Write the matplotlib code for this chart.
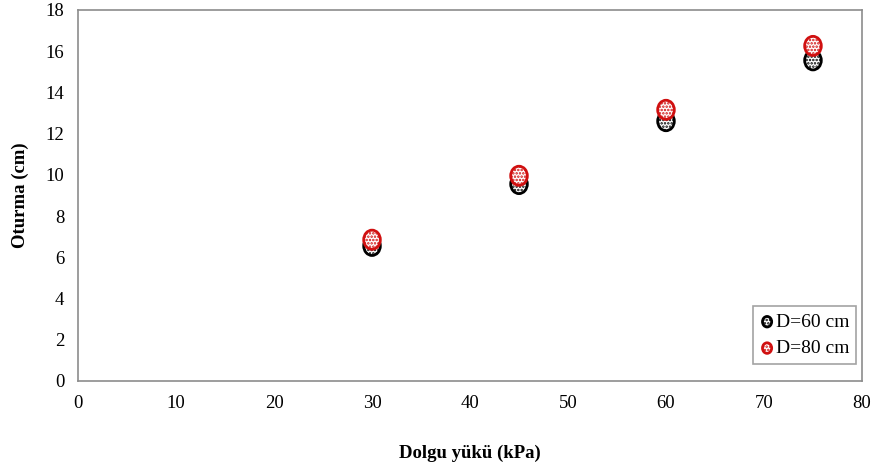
import matplotlib.pyplot as plt
import matplotlib as mpl
from matplotlib.path import Path
from matplotlib.transforms import Affine2D

plt.rcParams['font.family'] = ['Liberation Serif', 'DejaVu Serif']
mpl.rcParams['hatch.linewidth'] = 1.2

# Dolgu yükü ve oturma değerleri
yuk = [30, 45, 60, 75]
oturma_d60 = [6.55, 9.55, 12.6, 15.55]
oturma_d80 = [6.85, 9.95, 13.15, 16.25]
etiketler = ['D=60 cm', 'D=80 cm']
renkler = ['black', '#d01010']

# dikey yönde hafif uzun elips işaretçi
elips = Affine2D().scale(1.0, 1.15).transform_path(Path.unit_circle())

fig = plt.figure(figsize=(8.72, 4.68), dpi=100)
ax = fig.add_axes([0.0895, 0.186, 0.899, 0.793])

for seri, etiket, renk in zip([oturma_d60, oturma_d80], etiketler, renkler):
    ax.scatter(yuk, seri, s=190, marker=elips, facecolor='white', edgecolor=renk,
               linewidth=2.0, hatch='.....', label=etiket, zorder=3)

ax.set_xlim(0, 80)
ax.set_ylim(0, 18)
ax.set_xticks(range(0, 81, 10))
ax.set_yticks(range(0, 19, 2))
ax.tick_params(length=0, labelsize=13.5, pad=10)
for s in ax.spines.values():
    s.set_color('#8c8c8c')
    s.set_linewidth(1.2)

ax.set_xlabel('Dolgu yükü (kPa)', fontsize=13.5, fontweight='bold', labelpad=24)
ax.set_ylabel('Oturma (cm)', fontsize=13.5, fontweight='bold', labelpad=12)

leg = ax.legend(loc='lower right', fontsize=14, fancybox=False, handletextpad=0.1,
                handlelength=0.7, markerscale=0.55, borderpad=0.35, labelspacing=0.45,
                borderaxespad=0.3, bbox_to_anchor=(1.0, 0.03))
leg.get_frame().set_edgecolor('#8c8c8c')
leg.get_frame().set_linewidth(1.2)

fig.savefig('out.png', dpi=100)
